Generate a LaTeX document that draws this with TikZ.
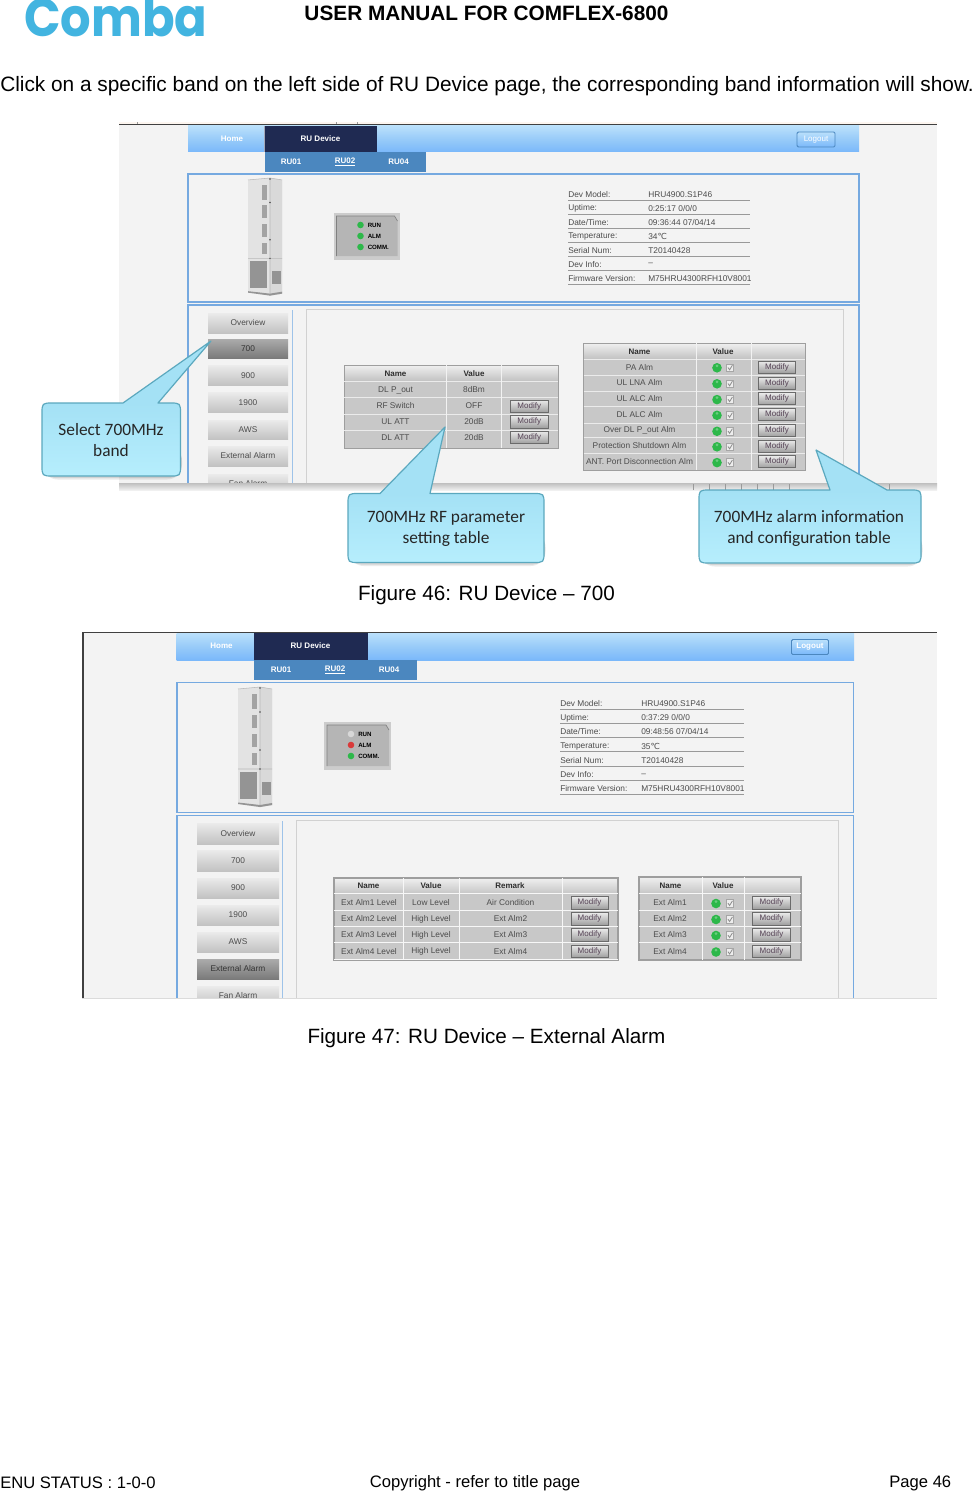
\documentclass[tikz,border=0pt]{standalone}
\usepackage{fontspec}
\setmainfont{Liberation Sans}
\newfontfamily\callfont{Carlito}
\newfontfamily\logofont{Poppins}
\newfontfamily\symfont{DejaVu Sans}
\definecolor{uitxt}{HTML}{4C4C4C}
\definecolor{boxblue}{HTML}{75A9E0}
\definecolor{tabblue}{HTML}{4B87BF}
\definecolor{navy}{HTML}{1F2A52}
\definecolor{navtop}{HTML}{BAE0FB}
\definecolor{navmid}{HTML}{98CBF9}
\definecolor{navbot}{HTML}{7AB8FA}
\definecolor{shot}{HTML}{F3F3F3}
\definecolor{rowgrey}{HTML}{C8C8C8}
\definecolor{tabline}{HTML}{9E9E9E}
\definecolor{ledgreen}{HTML}{2DB84A}
\definecolor{ledred}{HTML}{D93A3A}
\definecolor{ledoff}{HTML}{D8D8D8}
\definecolor{calltop}{HTML}{A4E1F5}
\definecolor{callbot}{HTML}{B6EEFD}
\definecolor{callline}{HTML}{5BA8BE}
\definecolor{logoblue}{HTML}{42B4E0}
\tikzset{
  page/.style={inner sep=0pt,font=\fontsize{15.5}{19}\selectfont,text=black},
  foot/.style={inner sep=0pt,font=\fontsize{12.45}{15}\selectfont,text=black},
  ui/.style={inner sep=0pt,font=\fontsize{6.25}{7}\selectfont,text=uitxt},
  uiact/.style={inner sep=0pt,font=\fontsize{6.25}{7}\selectfont,text=black!80},
  uibold/.style={inner sep=0pt,font=\bfseries\fontsize{6}{7}\selectfont,text=uitxt!60!black},
  navtxt/.style={inner sep=0pt,font=\bfseries\fontsize{6}{7}\selectfont,text=white},
  modbtn/.style={draw=black!58,line width=.6pt,top color=black!8,bottom color=black!38},
  modtxt/.style={inner sep=0pt,font=\fontsize{6}{7}\selectfont,text=uitxt!85!violet},
  sidebtn/.style={top color=black!8,bottom color=black!24},
  sideact/.style={top color=black!33,bottom color=black!52},
  navbar/.style={top color=navtop,bottom color=navbot,middle color=navmid},
  logoutbtn/.style={draw=tabblue,line width=.7pt,top color=navtop,bottom color=navbot,rounded corners=1pt},
  panelbox/.style={draw=boxblue,line width=1.1pt},
  innerp/.style={draw=black!18,line width=.7pt},
  calltxt/.style={inner sep=0pt,align=center,font=\callfont\fontsize{13}{15.8}\selectfont,text=black!85},
}
% side button: x0 y0 x1 y1 style text
\newcommand\sbtn[6]{\path[#5] (#1,#2) rectangle (#3,#4);\node[ui] at ({(#1+#3)/2},{(#2+#4)/2}) {#6};}
\newcommand\abtn[5]{\path[sideact] (#1,#2) rectangle (#3,#4);\node[uiact] at ({(#1+#3)/2},{(#2+#4)/2}) {#5};}
% modify button x0 y0 x1 y1
\newcommand\mbtn[4]{\path[modbtn] (#1,#2) rectangle (#3,#4);\node[modtxt] at ({(#1+#3)/2},{(#2+#4)/2}) {Modify};}
% LED + checkbox : led x, check x, y
\newcommand\ledchk[3]{\fill[ledgreen] (#1,#3) circle (4.8);\fill[white,opacity=.3] (#1,{#3-2}) circle (1.5);
  \path[draw=black!35,line width=.5pt,fill=black!7] ({#2-3.8},{#3-3.8}) rectangle ({#2+3.8},{#3+3.8});
  \draw[black!45,line width=.6pt] ({#2-2},{#3-.3}) -- ({#2-.4},{#3+2}) -- ({#2+2.4},{#3-2.6});}
% tower: x y xscale yscale
\newcommand\tower[4]{\begin{scope}[shift={(#1,#2)},xscale=#3,yscale=#4]
  \fill[black!11] (0,2) -- (22,0) -- (34,2) -- (34,118) -- (22,120) -- (0,117) -- cycle;
  \fill[black!15] (22,0) -- (34,2) -- (34,118) -- (22,120) -- cycle;
  \draw[black!28,line width=.4pt] (0,2) -- (22,0) -- (34,2) (22,0) -- (22,120) (0,82) -- (34,82);
  \foreach \a/\b in {7/22,28/41,47/60,66/78}{\fill[black!36] (14,\a) rectangle (19,\b);}
  \fill[black!42] (2,85) rectangle (19,112);
  \fill[black!42] (23.5,95) rectangle (33,108);
  \fill[black!42] (0,115.5) -- (22,118) -- (34,116) -- (34,118) -- (22,120) -- (0,117) -- cycle;
  \foreach \p in {(22,1),(22,25),(22,63),(22,82)}{\fill[black!70] \p circle (.8);}
  \end{scope}}
% LED panel: x y w h, run/alm colours
\newcommand\ledpanel[6]{\begin{scope}[shift={(#1,#2)}]
  \fill[black!20] (0,0) rectangle (#3,#4);
  \fill[black!29] (3,3) -- ({#3-5},3) -- ({#3-2},8) -- ({#3-2},{#4-4}) -- (3,{#4-4}) -- cycle;
  \draw[black!50,line width=.5pt] (3,{#4-4}) -- (3,3) -- ({#3-5},3) -- ({#3-2},8);
  \foreach \q/\c in {12/#5,23/#6,34/ledgreen}{\fill[\c] (27,\q) circle (3.3);}
  \node[anchor=west,inner sep=0pt,text=black,font=\bfseries\fontsize{4.6}{5}\selectfont] at (34,12) {RUN};
  \node[anchor=west,inner sep=0pt,text=black,font=\bfseries\fontsize{4.6}{5}\selectfont] at (34,23) {ALM};
  \node[anchor=west,inner sep=0pt,text=black,font=\bfseries\fontsize{4.6}{5}\selectfont] at (34,34) {COMM.};
  \end{scope}}
% callout: x0 y0 x1 y1 basex0 basex1 tipx tipy
\newcommand\callpath[8]{({#1+11},#2) -- (#5,#2) -- (#7,#8) -- (#6,#2) -- ({#3-11},#2) .. controls (#3,#2) .. (#3,{#2+11})
  -- (#3,{#4-11}) .. controls (#3,#4) .. ({#3-11},#4) -- ({#1+11},#4) .. controls (#1,#4) .. (#1,{#4-11}) -- (#1,{#2+11}) .. controls (#1,#2) .. ({#1+11},#2) -- cycle}
\newcommand\callout[8]{
  \fill[black,opacity=.08,rounded corners=11pt] ({#1+1},{#4-30}) rectangle ({#3+1.5},{#4+3.5});
  \fill[black,opacity=.1,rounded corners=9pt] ({#1+1},{#4-30}) rectangle ({#3+1},{#4+2});
  \begin{scope}\clip \callpath{#1}{#2}{#3}{#4}{#5}{#6}{#7}{#8};
    \fill[calltop] ({min(#1,#7)},{min(#2,#8)}) rectangle ({max(#3,#7)},#2);
    \shade[top color=calltop,bottom color=callbot] (#1,#2) rectangle (#3,#4);
  \end{scope}
  \draw[callline,line width=.9pt,line join=round] \callpath{#1}{#2}{#3}{#4}{#5}{#6}{#7}{#8};}
\begin{document}
\begin{tikzpicture}[x=.75pt,y=-.75pt]
\useasboundingbox (0,0) rectangle (972,1491);
\fill[white] (0,0) rectangle (972,1491);
% ---------- page head ----------
\begin{scope}
\clip (0,0) rectangle (972,60);
\node[anchor=base west,inner sep=0pt,text=logoblue,xscale=.9,transform shape,font=\logofont\bfseries\fontsize{40}{40}\selectfont] (logo) at (24,37) {Comba};
\end{scope}
\node[page,font=\bfseries\fontsize{15.6}{19}\selectfont] (title) at (486.5,13) {USER MANUAL FOR COMFLEX-6800};
\node[page,anchor=west,font=\fontsize{15.62}{19}\selectfont] (intro) at (0,86.5) {Click on a specific band on the left side of RU Device page, the corresponding band information will show.};
% ========== Screenshot 46 ==========
\begin{scope}
\clip (119,122) rectangle (937,490);
\fill[shot] (119,122) rectangle (937,490);
\fill[black!12!orange!6!white] (119,122) rectangle (937,124.5);
\fill[black!75] (119,124) rectangle (937,125.2);
\foreach \x in {137,336,357}{\fill[black!40] (\x,122) rectangle ({\x+.7},124);}
% nav
\path[navbar] (188,126) rectangle (859,152);
\fill[navy] (264,126) rectangle (377,152);
\fill[white,opacity=.6] (263.5,126) rectangle (264.3,152);
\fill[tabblue] (265,152) rectangle (426,172);
\node[navtxt] (h1) at (232,139) {Home};
\node[navtxt] (d1) at (320.5,139) {RU Device};
\node[navtxt] (r11) at (291,162) {RU01};
\node[navtxt] (r12) at (345,162) {\underline{RU02}};
\node[navtxt] (r13) at (398.5,162) {RU04};
\path[logoutbtn] (797,132) rectangle (835,147);
\node[navtxt,font=\fontsize{6}{7}\selectfont] (lo1) at (816,139.5) {Logout};
% panels
\draw[panelbox] (188,174) rectangle (859,302);
\draw[panelbox] (188,305) rectangle (859,500);
\tower{248}{178}{1}{.98}
\ledpanel{333.5}{213}{66}{47}{ledgreen}{ledgreen}
\foreach \y/\a/\b [count=\i] in {194.6/Dev Model:/HRU4900.S1P46,208.6/Uptime:/{0:25:17 0/0/0},222.6/{Date/Time:}/{09:36:44 07/04/14},236.6/Temperature:/{34{\symfont ℃}},250.6/Serial Num:/T20140428,264.6/Dev Info:/--,278.6/Firmware Version:/M75HRU4300RFH10V8001}{
  \node[ui,anchor=west] (ia\i) at (568,\y) {\a};
  \node[ui,anchor=west] (ib\i) at (648,\y) {\b};
  \fill[black!40] (568,{\y+5.8}) rectangle (750,{\y+6.5});}
% sidebar
\draw[boxblue!70,line width=.7pt] (292,310) -- (292,490);
\sbtn{208}{313}{288}{333}{sidebtn}{Overview}
\abtn{208}{339}{288}{358}{700}
\sbtn{208}{365.5}{288}{385}{sidebtn}{900}
\sbtn{208}{392.5}{288}{412.5}{sidebtn}{1900}
\sbtn{208}{420}{288}{439.5}{sidebtn}{AWS}
\sbtn{208}{446}{288}{466}{sidebtn}{External Alarm}
\sbtn{208}{474}{288}{494}{sidebtn}{Fan Alarm}
\draw[innerp] (306,500) -- (306,309) -- (843,309) -- (843,500);
\shade[top color=black!25,bottom color=black!6] (119,483) rectangle (937,490);
\foreach \x in {693,709,725,741,757,773,789,889}{\fill[black!40] (\x,483.5) rectangle ({\x+.7},490);}
% RF table
\fill[rowgrey] (344,365) rectangle (558,448);
\shade[top color=black!6,bottom color=black!24] (344,365) rectangle (558,381);
\draw[tabline,line width=.7pt] (344,365) rectangle (558,448);
\foreach \y in {381.4,397.6,414,430}{\draw[black!8,line width=.5pt] (344,\y) -- (558,\y);}
\foreach \x in {446.5,501}{\draw[black!5,line width=.6pt] (\x,365) -- (\x,448);}
\node[uibold] (rfn) at (395.5,374) {Name};
\node[uibold] (rfv) at (474,374) {Value};
\foreach \y/\a/\b [count=\i] in {390/DL P\_out/8dBm,406/RF Switch/OFF,422/UL ATT/20dB,437.5/DL ATT/20dB}{
  \node[ui] (rfa\i) at (395.5,\y) {\a};
  \node[ui] (rfb\i) at (474,\y) {\b};}
\foreach \y in {400,415.5,431}{\mbtn{510.5}{\y}{548}{\y+12.5}}
% Alarm table
\fill[rowgrey] (583.6,343) rectangle (805,470);
\shade[top color=black!6,bottom color=black!24] (583.6,343) rectangle (805,359);
\draw[tabline,line width=.7pt] (583.6,343) rectangle (805,470);
\foreach \y in {359,375.6,391,406.5,423,437.4,453.5}{\draw[black!8,line width=.5pt] (583.6,\y) -- (805,\y);}
\foreach \x in {696.5,751}{\draw[black!5,line width=.6pt] (\x,343) -- (\x,470);}
\node[uibold] (aln) at (639.5,351.5) {Name};
\node[uibold] (alv) at (723,351.5) {Value};
\foreach \y/\a [count=\i] in {367/PA Alm,383/UL LNA Alm,398.8/UL ALC Alm,414.5/DL ALC Alm,430.5/Over DL P\_out Alm,446/Protection Shutdown Alm,461.8/ANT. Port Disconnection Alm}{
  \node[ui] (ala\i) at (639.5,\y) {\a};
  \ledchk{717}{730}{\y+.8}
  \mbtn{758.5}{\y-6}{795.5}{\y+6}}
\end{scope}
% callouts 46
\callout{42}{403}{180.5}{476}{123}{158}{211}{341}
\node[calltxt] (c1) at (111,440) {Select 700MHz\\band};
\callout{348}{493.5}{544}{562.5}{380}{430}{445}{427}
\node[calltxt] (c2) at (446,528.5) {700MHz RF parameter\\setting table};
\callout{699}{490}{921}{563}{830}{887}{816}{450}
\node[calltxt] (c3) at (809,528.5) {700MHz alarm information\\and configuration table};
\node[page] (fig46) at (486.5,595.5) {Figure 46: RU Device – 700};
% ========== Screenshot 47 ==========
\begin{scope}
\clip (82,632) rectangle (937,998);
\fill[shot] (82,632) rectangle (937,998);
\fill[black!75] (82,631.5) rectangle (937,632.6);
\fill[black!75] (82,632) rectangle (84,998);
\path[navbar] (176.5,633) rectangle (854,660);
\fill[navy] (254,633) rectangle (368,660);
\fill[tabblue] (254,660) rectangle (416.5,680);
\node[navtxt] (h2) at (221.5,646) {Home};
\node[navtxt] (d2) at (310.5,646) {RU Device};
\node[navtxt] (r21) at (281,670) {RU01};
\node[navtxt] (r22) at (335,670) {\underline{RU02}};
\node[navtxt] (r23) at (389,670) {RU04};
\path[logoutbtn] (791.5,639.5) rectangle (828.5,654.5);
\node[navtxt] (lo2) at (810,647) {Logout};
\draw[panelbox] (177,682.5) rectangle (853.5,812.5);
\draw[panelbox] (177,815.5) rectangle (853.5,1010);
\tower{238}{687}{1}{1}
\ledpanel{324}{722}{67}{48}{ledoff}{ledred}
\foreach \y/\a/\b [count=\i] in {704/Dev Model:/HRU4900.S1P46,718/Uptime:/{0:37:29 0/0/0},732/{Date/Time:}/{09:48:56 07/04/14},746/Temperature:/{35{\symfont ℃}},761/Serial Num:/T20140428,775/Dev Info:/--,789/Firmware Version:/M75HRU4300RFH10V8001}{
  \node[ui,anchor=west] (ja\i) at (560,\y) {\a};
  \node[ui,anchor=west] (jb\i) at (641,\y) {\b};
  \fill[black!40] (560,{\y+5}) rectangle (744,{\y+5.7});}
\draw[boxblue!70,line width=.7pt] (282.5,821) -- (282.5,998);
\sbtn{197}{823}{279}{844}{sidebtn}{Overview}
\sbtn{197}{850}{279}{871}{sidebtn}{700}
\sbtn{197}{878}{279}{898}{sidebtn}{900}
\sbtn{197}{905}{279}{925}{sidebtn}{1900}
\sbtn{197}{932}{279}{952}{sidebtn}{AWS}
\abtn{197}{959}{279}{979}{External Alarm}
\sbtn{197}{986}{279}{1006}{sidebtn}{Fan Alarm}
\draw[innerp] (296.7,1010) -- (296.7,820) -- (838,820) -- (838,1010);
% level table
\fill[rowgrey] (334,878) rectangle (618,960);
\shade[top color=black!6,bottom color=black!22] (334,878) rectangle (618,893);
\draw[tabline,line width=.8pt] (334,878) rectangle (618,960);
\foreach \y in {893,910,926,942,959}{\draw[black!3,line width=.6pt] (334,\y) -- (618,\y);}
\foreach \x in {403,459,562}{\draw[black!3,line width=.6pt] (\x,878) -- (\x,960);}
\node[uibold] (ln) at (368.5,886) {Name};
\node[uibold] (lv) at (431,886) {Value};
\node[uibold] (lr) at (510,886) {Remark};
\foreach \y/\a/\b/\c [count=\i] in {903/Ext Alm1 Level/Low Level/Air Condition,919/Ext Alm2 Level/High Level/Ext Alm2,935/Ext Alm3 Level/High Level/Ext Alm3,951.5/Ext Alm4 Level/High Level/Ext Alm4}{
  \node[ui] (la\i) at (369,\y) {\a};
  \node[ui] (lb\i) at (431,\y) {\b};
  \node[ui] (lc\i) at (510.5,\y) {\c};
  \mbtn{571}{\y-6.5}{608}{\y+6}}
% ext alm table
\fill[rowgrey] (639,877) rectangle (801,960);
\shade[top color=black!6,bottom color=black!22] (639,877) rectangle (801,893);
\draw[tabline,line width=.8pt] (639,877) rectangle (801,960);
\foreach \y in {893,910,926,942}{\draw[black!3,line width=.6pt] (639,\y) -- (801,\y);}
\foreach \x in {702,744}{\draw[black!3,line width=.6pt] (\x,877) -- (\x,960);}
\node[uibold] (en) at (670.5,886) {Name};
\node[uibold] (ev) at (723,886) {Value};
\foreach \y/\a [count=\i] in {903/Ext Alm1,919/Ext Alm2,935/Ext Alm3,951.5/Ext Alm4}{
  \node[ui] (ea\i) at (670,\y) {\a};
  \ledchk{716}{730}{\y+.5}
  \mbtn{752.5}{\y-6.5}{790.5}{\y+6}}
\end{scope}
\fill[black!14] (82,997.5) rectangle (937,998.3);
\node[page] (fig47) at (486.5,1038.5) {Figure 47: RU Device – External Alarm};
% footer
\node[foot,anchor=west] (fl) at (0,1483) {ENU STATUS : 1-0-0};
\node[foot] (fc) at (475,1483) {Copyright - refer to title page};
\node[foot,anchor=east] (fr) at (951.5,1483) {Page 46};
\end{tikzpicture}
\end{document}
